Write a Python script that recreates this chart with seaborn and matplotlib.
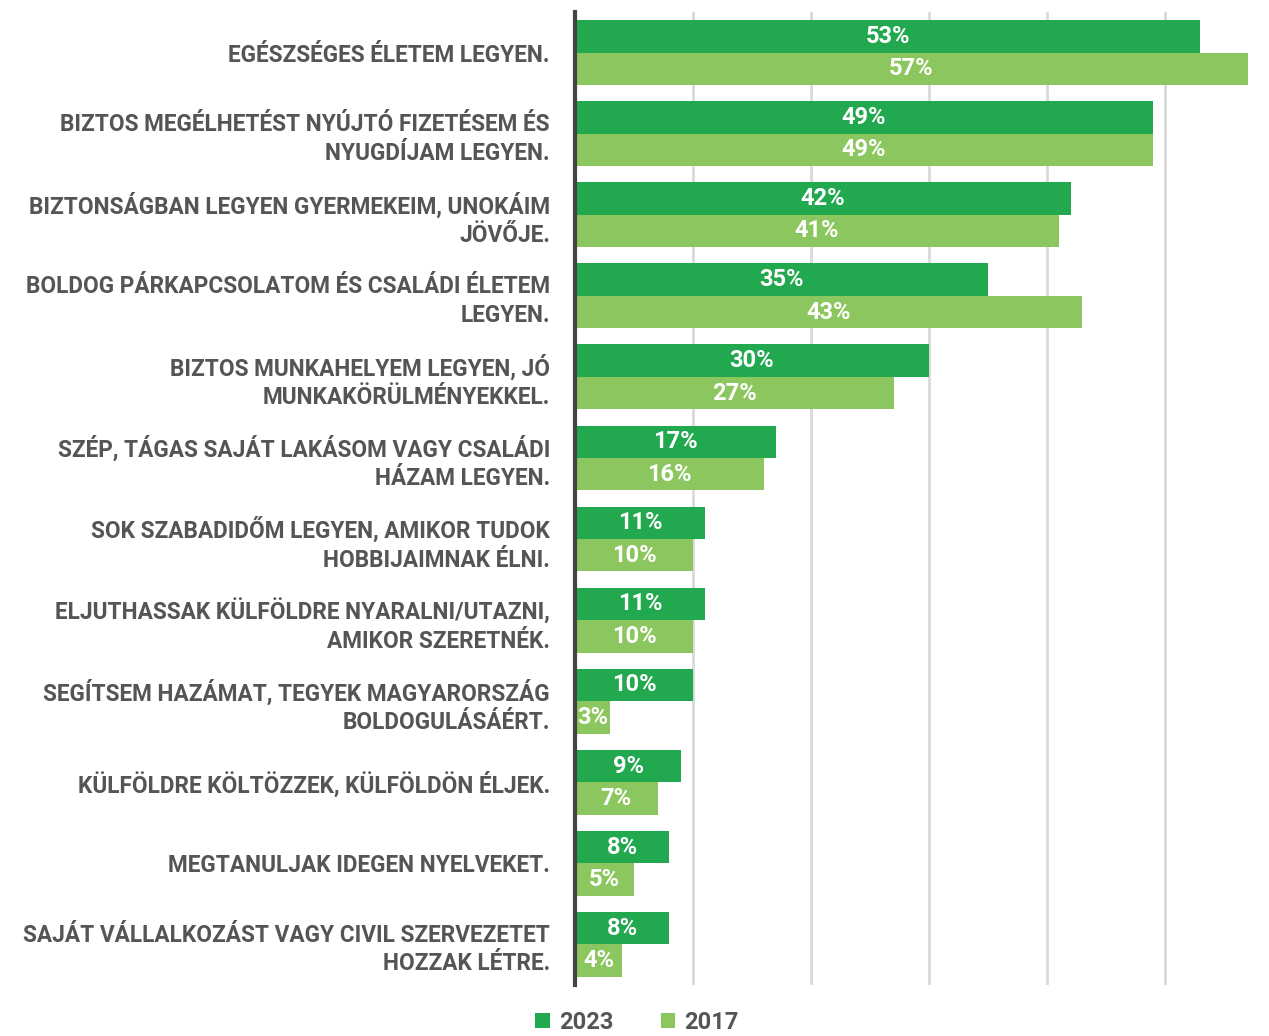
import matplotlib
matplotlib.use("Agg")
import matplotlib.pyplot as plt
import pandas as pd
import seaborn as sns

categories = [
    "EGÉSZSÉGES ÉLETEM LEGYEN.",
    "BIZTOS MEGÉLHETÉST NYÚJTÓ FIZETÉSEM ÉS\nNYUGDÍJAM LEGYEN.",
    "BIZTONSÁGBAN LEGYEN GYERMEKEIM, UNOKÁIM\nJÖVŐJE.",
    "BOLDOG PÁRKAPCSOLATOM ÉS CSALÁDI ÉLETEM\nLEGYEN.",
    "BIZTOS MUNKAHELYEM LEGYEN, JÓ\nMUNKAKÖRÜLMÉNYEKKEL.",
    "SZÉP, TÁGAS SAJÁT LAKÁSOM VAGY CSALÁDI\nHÁZAM LEGYEN.",
    "SOK SZABADIDŐM LEGYEN, AMIKOR TUDOK\nHOBBIJAIMNAK ÉLNI.",
    "ELJUTHASSAK KÜLFÖLDRE NYARALNI/UTAZNI,\nAMIKOR SZERETNÉK.",
    "SEGÍTSEM HAZÁMAT, TEGYEK MAGYARORSZÁG\nBOLDOGULÁSÁÉRT.",
    "KÜLFÖLDRE KÖLTÖZZEK, KÜLFÖLDÖN ÉLJEK.",
    "MEGTANULJAK IDEGEN NYELVEKET.",
    "SAJÁT VÁLLALKOZÁST VAGY CIVIL SZERVEZETET\nHOZZAK LÉTRE.",
]
values_2023 = [53, 49, 42, 35, 30, 17, 11, 11, 10, 9, 8, 8]
values_2017 = [57, 49, 41, 43, 27, 16, 10, 10, 3, 7, 5, 4]
years = ["2023", "2017"]
colors = ["#22a84f", "#8bc75e"]

df = pd.DataFrame({
    "category": categories * 2,
    "value": values_2023 + values_2017,
    "year": [years[0]] * len(categories) + [years[1]] * len(categories),
})

sns.set_style("white")
plt.rcParams["font.family"] = ["Roboto", "DejaVu Sans"]
plt.rcParams["font.weight"] = "bold"

fig = plt.figure(figsize=(12.69, 10.36), dpi=100)
ax = fig.add_axes([575 / 1269, 1 - 985 / 1036, 1 - 575 / 1269, (985 - 12) / 1036])

sns.barplot(data=df, y="category", x="value", hue="year", orient="h",
            palette=colors, ax=ax, width=0.8, legend=True, saturation=1,
            linewidth=0)

for cont in ax.containers:
    ax.bar_label(cont, labels=[f"{int(v)}%" for v in cont.datavalues],
                 label_type="center", color="white", fontsize=17, fontweight="bold")

ax.set_xlim(0, (1269 - 575) / 11.8)
ax.set_ylim(len(categories) - 0.5, -0.5)
ax.set_xticks([10, 20, 30, 40, 50])
ax.set_xticklabels([])
ax.tick_params(axis="x", length=0)
ax.tick_params(axis="y", length=0, pad=18, labelsize=16.3, labelcolor="#555555")
for t in ax.get_yticklabels():
    t.set_horizontalalignment("right")
    t.set_multialignment("right")
    t.set_fontweight("bold")
    t.set_linespacing(1.3)
ax.grid(axis="x", color="#d9d9d9", linewidth=2)
ax.set_axisbelow(True)
ax.set_xlabel("")
ax.set_ylabel("")
for s in ["top", "right", "bottom"]:
    ax.spines[s].set_visible(False)
ax.spines["left"].set_color("#444444")
ax.spines["left"].set_linewidth(3)
ax.spines["left"].set_zorder(5)

handles, labels = ax.get_legend_handles_labels()
ax.legend_.remove()
fig.legend(handles, labels, loc="center", bbox_to_anchor=(0.502, 0.013), ncol=2,
           frameon=False, fontsize=17, handlelength=0.6, handleheight=0.6,
           handletextpad=0.4, columnspacing=2.0, labelcolor="#555555")

fig.savefig("out.png", dpi=100)
